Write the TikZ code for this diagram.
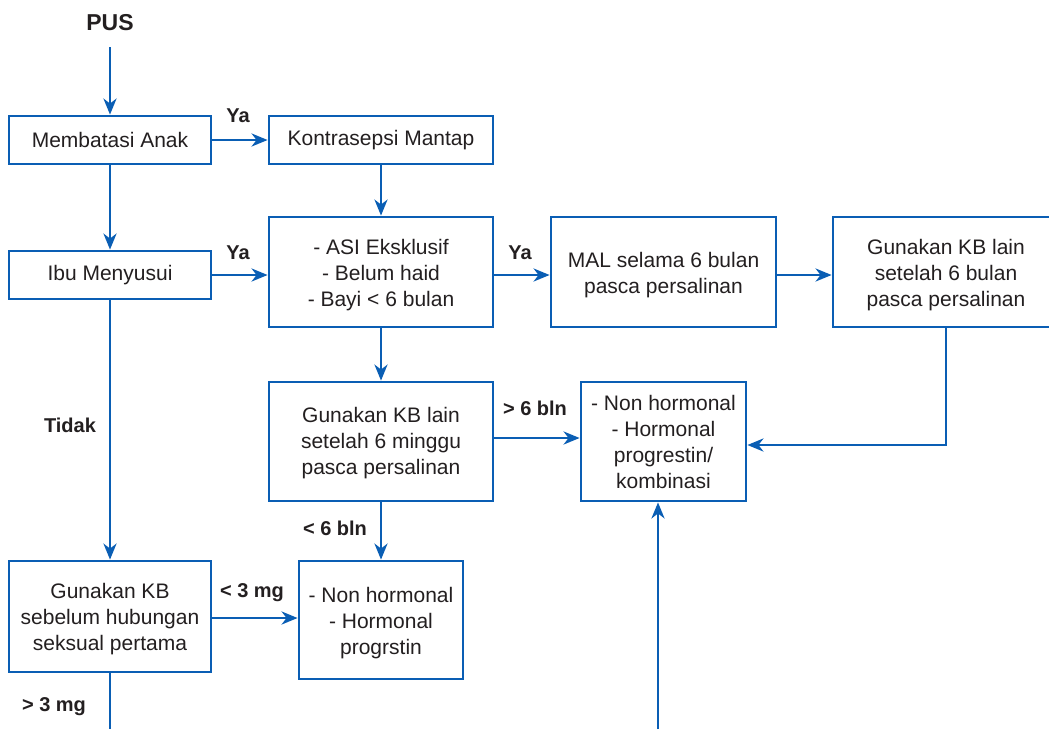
\documentclass[tikz,border=0pt]{standalone}
\usepackage{fontspec}
\setmainfont{Liberation Sans}
\usetikzlibrary{arrows.meta,calc}
\definecolor{fblue}{RGB}{10,94,180}
\definecolor{ftext}{RGB}{35,31,32}
\newcommand{\toppad}[1]{\rule{0pt}{#1}}
\begin{document}
\begin{tikzpicture}[x=1pt,y=-1pt,
 box/.style={draw=fblue,line width=2.8pt,fill=white,text=ftext,align=center,inner sep=0pt,font=\fontsize{21}{26}\selectfont},
 lbl/.style={text=ftext,font=\fontsize{20}{24}\selectfont\bfseries,inner sep=0pt},
 arr/.style={draw=fblue,line width=2.8pt,-{Stealth[length=16pt,width=13pt,inset=5pt]}},
 ln/.style={draw=fblue,line width=2.8pt}]
\useasboundingbox (0,0) rectangle (1049,729);
\clip (0,0) rectangle (1049,729);

\node[lbl,font=\fontsize{23}{27}\selectfont\bfseries] (pus) at (110,23) {PUS};
\coordinate (pusb) at (110,47);

\node[box,minimum width=202pt,minimum height=48pt] (memb) at (110,140) {Membatasi Anak};
\node[box,minimum width=224pt,minimum height=48pt] (kontra) at (381,140) {Kontrasepsi Mantap};
\node[box,minimum width=202pt,minimum height=48pt] (ibu) at (110,275) {Ibu Menyusui};
\node[box,minimum width=224pt,minimum height=110pt] (asi) at (381,272) {\toppad{22pt}- ASI Eksklusif\\- Belum haid\\- Bayi < 6 bulan};
\node[box,minimum width=225pt,minimum height=110pt] (mal) at (663.5,272) {\toppad{22pt}MAL selama 6 bulan\\pasca persalinan};
\node[box,minimum width=226pt,minimum height=110pt] (lain) at (946,272) {\toppad{22pt}Gunakan KB lain\\setelah 6 bulan\\pasca persalinan};
\node[box,minimum width=224pt,minimum height=119pt] (kb6m) at (381,441.5) {\toppad{19pt}Gunakan KB lain\\setelah 6 minggu\\pasca persalinan};
\node[box,minimum width=165pt,minimum height=119pt] (nh1) at (663.5,441.5) {\toppad{17pt}- Non hormonal\\- Hormonal\\progrestin/\\kombinasi};
\node[box,minimum width=202pt,minimum height=111pt] (sebelum) at (110,616.5) {\toppad{21pt}Gunakan KB\\sebelum hubungan\\seksual pertama};
\node[box,minimum width=164pt,minimum height=118pt] (nh2) at (381,620) {\toppad{22pt}- Non hormonal\\- Hormonal\\progrstin};

\coordinate (bot1) at (658,729);
\coordinate (bot2) at (110,729);

\draw[arr] (pusb) -- (memb.north);
\draw[arr] (memb.east) -- (kontra.west);
\draw[arr] (memb.south) -- (ibu.north);
\draw[arr] (kontra.south) -- (asi.north);
\draw[arr] (ibu.east) -- (ibu.east -| asi.west);
\draw[arr] (ibu.east -| asi.east) -- (ibu.east -| mal.west);
\draw[arr] (ibu.east -| mal.east) -- (ibu.east -| lain.west);
\draw[arr] (asi.south) -- (kb6m.north);
\draw[arr] ([yshift=3.5pt]kb6m.east) -- ([yshift=3.5pt]kb6m.east -| nh1.west);
\draw[arr] (lain.south) |- ([yshift=-3.5pt]nh1.east);
\draw[arr] (bot1) -- (bot1 |- nh1.south);
\draw[arr] (kb6m.south) -- (nh2.north);
\draw[arr] (ibu.south) -- (sebelum.north);
\draw[arr] ([yshift=-1.5pt]sebelum.east) -- ([yshift=-1.5pt]sebelum.east -| nh2.west);
\draw[ln] (sebelum.south) -- (bot2);

\node[lbl] (ya1) at (238,116) {Ya};
\node[lbl] (ya2) at (238,253) {Ya};
\node[lbl] (ya3) at (520,253) {Ya};
\node[lbl] (gt6) at (535,408) {> 6 bln};
\node[lbl] (tidak) at (70,425) {Tidak};
\node[lbl] (lt6) at (335,528) {< 6 bln};
\node[lbl] (lt3) at (252,593) {< 3 mg};
\node[lbl] (gt3) at (54,707) {> 3 mg};
\end{tikzpicture}
\end{document}
